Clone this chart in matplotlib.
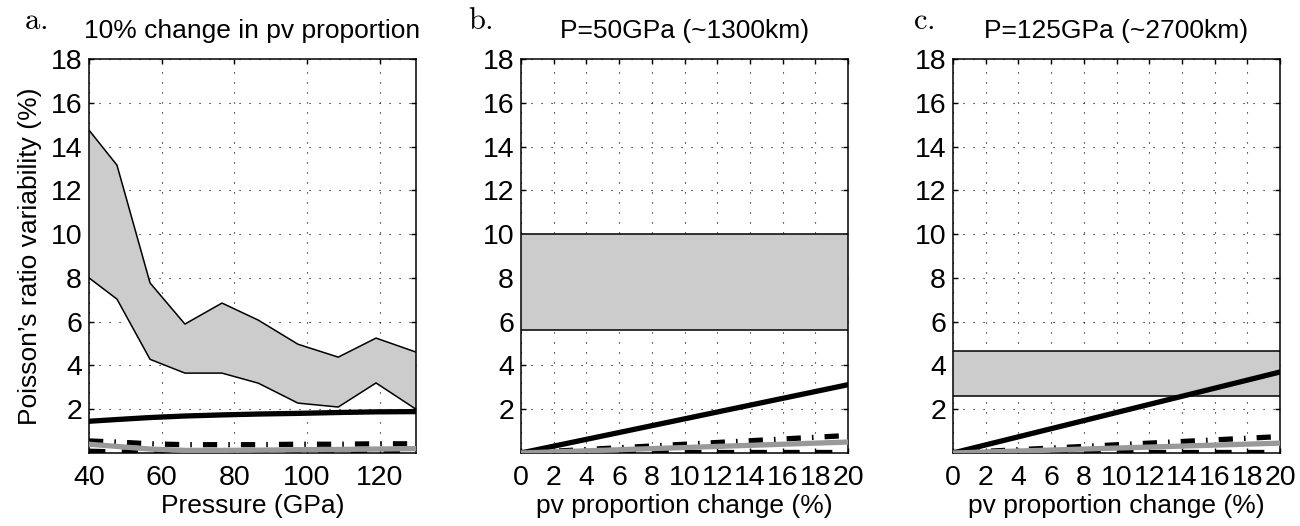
import matplotlib
matplotlib.use("Agg")
import matplotlib.pyplot as plt

plt.rcParams['font.family'] = ['Liberation Sans', 'DejaVu Sans']
plt.rcParams['mathtext.fontset'] = 'cm'

# --- Panel a: 10% change in pv proportion vs pressure ---
pressure = [40, 47.7, 56.8, 66.4, 76.6, 86.6, 97.5, 108.6, 119, 130]
band_upper_a = [14.75, 13.15, 7.77, 5.89, 6.85, 6.07, 4.97, 4.38, 5.25, 4.61]
band_lower_a = [8.0, 7.03, 4.28, 3.65, 3.65, 3.19, 2.28, 2.1, 3.2, 2.0]
solid_a = [1.45, 1.53, 1.62, 1.69, 1.74, 1.78, 1.81, 1.85, 1.88, 1.89]
dashdot_a = [0.55, 0.5, 0.42, 0.38, 0.38, 0.38, 0.4, 0.4, 0.42, 0.42]
gray_a = [0.4, 0.3, 0.18, 0.12, 0.12, 0.13, 0.15, 0.16, 0.18, 0.2]
dashed_a = [0.08, 0.05, 0.03, 0.03, 0.03, 0.03, 0.03, 0.03, 0.03, 0.03]

# --- Panels b, c: variability vs pv proportion change ---
pv_change = [0, 20]
band_b = [5.62, 10.02]
solid_b = [0, 3.12]
dashdot_b = [0, 0.8]
gray_b = [0, 0.5]
dashed_b = [0.03, 0.03]

band_c = [2.6, 4.68]
solid_c = [0, 3.7]
dashdot_c = [0, 0.75]
gray_c = [0, 0.45]
dashed_c = [0.03, 0.03]

titles = ["10% change in pv proportion", "P=50GPa (~1300km)", "P=125GPa (~2700km)"]
panel_tags = ["a.", "b.", "c."]
yticks = [2, 4, 6, 8, 10, 12, 14, 16, 18]

FS_TICK = 20.5
FS_LAB = 19
fig = plt.figure(figsize=(13, 5.26), dpi=100)
lefts = [89 / 1300, 521 / 1300, 953 / 1300]
W, H = 327 / 1300, 394 / 526
B = 73 / 526
axes = [fig.add_axes([l, B, W, H]) for l in lefts]

band_face = "#cccccc"
gray_col = "#999999"
lw_main = 3.8
dashdot_style = (0, (2.7, 2.1, 0.3, 2.1))
dashed_style = (0, (3.1, 3.1))


def style_axis(ax):
    ax.set_axisbelow(True)
    ax.grid(True, color="black", linestyle=(0, (1, 8)), linewidth=0.8)
    ax.tick_params(direction="in", top=True, right=True, length=3.5, width=1,
                   labelsize=FS_TICK, colors="black")
    ax.tick_params(axis="x", pad=8.5)
    ax.tick_params(axis="y", pad=5)
    for s in ax.spines.values():
        s.set_linewidth(1.1)
    ax.set_ylim(0, 18)
    ax.set_yticks(yticks)


# Panel a
ax = axes[0]
style_axis(ax)
ax.fill_between(pressure, band_lower_a, band_upper_a, facecolor=band_face,
                edgecolor="none", zorder=2)
ax.plot(pressure, band_upper_a, color="black", lw=1.1, zorder=3)
ax.plot(pressure, band_lower_a, color="black", lw=1.1, zorder=3)
ax.plot(pressure, solid_a, color="black", lw=lw_main, zorder=4)
ax.plot(pressure, dashdot_a, color="black", lw=lw_main, linestyle=dashdot_style, zorder=4)
ax.plot(pressure, dashed_a, color="black", lw=lw_main, linestyle=dashed_style, zorder=4)
ax.plot(pressure, gray_a, color=gray_col, lw=lw_main, zorder=5)
ax.set_xlim(40, 130)
ax.set_xticks([40, 60, 80, 100, 120])
ax.set_xlabel("Pressure (GPa)", fontsize=FS_LAB, labelpad=2)
ax.set_ylabel("Poisson\u2019s ratio variability (%)", fontsize=FS_LAB, labelpad=6)

# Panels b and c
for ax, band, solid, dd, gr, dsh in [
    (axes[1], band_b, solid_b, dashdot_b, gray_b, dashed_b),
    (axes[2], band_c, solid_c, dashdot_c, gray_c, dashed_c),
]:
    style_axis(ax)
    ax.fill_between(pv_change, [band[0]] * 2, [band[1]] * 2, facecolor=band_face,
                    edgecolor="none", zorder=2)
    ax.plot(pv_change, [band[0]] * 2, color="black", lw=1.1, zorder=3)
    ax.plot(pv_change, [band[1]] * 2, color="black", lw=1.1, zorder=3)
    ax.plot(pv_change, solid, color="black", lw=lw_main, zorder=4)
    ax.plot(pv_change, dd, color="black", lw=lw_main, linestyle=dashdot_style, zorder=4)
    ax.plot(pv_change, dsh, color="black", lw=lw_main, linestyle=dashed_style, zorder=4)
    ax.plot(pv_change, gr, color=gray_col, lw=lw_main, zorder=5)
    ax.set_xlim(0, 20)
    ax.set_xticks(list(range(0, 21, 2)))
    ax.set_xlabel("pv proportion change (%)", fontsize=FS_LAB, labelpad=2)

for ax, t in zip(axes, titles):
    ax.set_title(t, fontsize=FS_LAB, pad=15)

tag_x = [24 / 1300, 468 / 1300, 913 / 1300]
for x, tag in zip(tag_x, panel_tags):
    fig.text(x, 1 - 29 / 526, r"$\mathrm{%s}$" % tag, fontsize=22, ha="left",
             va="baseline")

fig.savefig("out.png", dpi=100)
